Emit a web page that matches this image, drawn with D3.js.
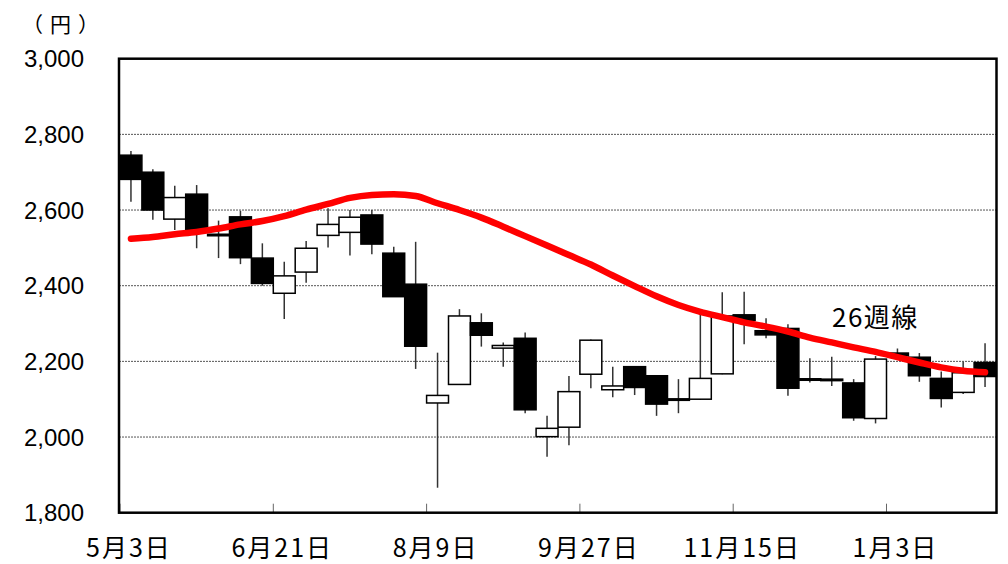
<!DOCTYPE html>
<html>
<head>
<meta charset="utf-8">
<script src="https://cdn.jsdelivr.net/npm/d3@7"></script>
<style>
  body { margin: 0; background: #fff; }
  svg { display: block; }
</style>
</head>
<body>
<svg width="1008" height="564"></svg>
<script>
// weekly candles with 26 week moving average

var weeks = ['5/3', '5/10', '5/17', '5/24', '5/31', '6/7', '6/14', '6/21', '6/28', '7/5',
    '7/12', '7/19', '7/26', '8/2', '8/9', '8/16', '8/23', '8/30', '9/6', '9/13',
    '9/20', '9/27', '10/4', '10/11', '10/18', '10/25', '11/1', '11/8', '11/15', '11/22',
    '11/29', '12/6', '12/13', '12/20', '12/27', '1/3', '1/10', '1/17', '1/24', '1/31'];

var open = [2745, 2700, 2576, 2642, 2532, 2582, 2473, 2380, 2436, 2533,
    2541, 2587, 2486, 2404, 2090, 2139, 2302, 2235, 2261, 2001,
    2026, 2166, 2125, 2186, 2162, 2098, 2100, 2167, 2323, 2281,
    2287, 2154, 2153, 2143, 2049, 2222, 2211, 2155, 2118, 2197];

var close = [2681, 2600, 2633, 2549, 2536, 2474, 2406, 2426, 2499, 2562,
    2581, 2510, 2371, 2240, 2110, 2320, 2269, 2242, 2072, 2023,
    2120, 2256, 2135, 2131, 2087, 2101, 2155, 2320, 2308, 2270,
    2129, 2151, 2150, 2051, 2206, 2215, 2162, 2102, 2170, 2160];

var high = [2756, 2708, 2664, 2666, 2572, 2598, 2512, 2463, 2518, 2605,
    2600, 2600, 2503, 2516, 2223, 2338, 2327, 2250, 2276, 2056,
    2161, 2258, 2186, 2186, 2162, 2153, 2325, 2383, 2384, 2314,
    2298, 2208, 2212, 2153, 2214, 2234, 2222, 2173, 2199, 2248];

var low = [2622, 2574, 2547, 2499, 2473, 2457, 2400, 2312, 2408, 2501,
    2480, 2483, 2371, 2180, 1866, 2139, 2239, 2186, 2063, 1948,
    1978, 2129, 2105, 2111, 2056, 2063, 2098, 2166, 2245, 2261,
    2109, 2144, 2135, 2043, 2036, 2210, 2146, 2078, 2114, 2132];

var ma26 = [2524, 2529, 2536, 2542, 2551, 2562, 2571, 2584, 2601, 2616,
    2632, 2640, 2642, 2637, 2618, 2600, 2580, 2556, 2531, 2506,
    2481, 2456, 2427, 2399, 2372, 2349, 2331, 2317, 2303, 2292,
    2279, 2263, 2250, 2237, 2225, 2211, 2197, 2184, 2175, 2171];

var yTicks = [1800, 2000, 2200, 2400, 2600, 2800, 3000];
var xTickWeeks = ['5/3', '6/21', '8/9', '9/27', '11/15', '1/3'];
var xTickLabels = ['5月3日', '6月21日', '8月9日', '9月27日', '11月15日', '1月3日'];

var svg = d3.select('svg');
var plotLeft = 119, plotRight = 996.5, plotTop = 58.7, plotBottom = 512.7;

var xScale = d3.scaleBand().domain(weeks).range([120, 996]).padding(0);
var yScale = d3.scaleLinear().domain([1800, 3000]).range([plotBottom, plotTop]);
var bw = xScale.bandwidth();

// grid lines
svg.append('g')
    .selectAll('line')
    .data(yTicks.filter(function(d) { return d > 1800 && d < 3000; }))
    .enter().append('line')
    .attr('x1', plotLeft).attr('x2', plotRight)
    .attr('y1', function(d) { return yScale(d); })
    .attr('y2', function(d) { return yScale(d); })
    .attr('stroke', '#555')
    .attr('stroke-width', 1)
    .attr('stroke-dasharray', '2,1');

// y labels
svg.append('g')
    .selectAll('text')
    .data(yTicks)
    .enter().append('text')
    .attr('x', 84)
    .attr('y', function(d) { return yScale(d) + 8.5; })
    .attr('text-anchor', 'end')
    .attr('font-family', '"Liberation Sans", Arial, sans-serif')
    .attr('font-size', 24)
    .attr('fill', '#000')
    .text(function(d) { return d3.format(',')(d); });

svg.append('text')
    .attr('x', 64)
    .attr('y', 32)
    .attr('text-anchor', 'middle')
    .attr('font-family', '"Noto Sans CJK JP", sans-serif')
    .attr('font-size', 21)
    .attr('letter-spacing', 7)
    .text('（円）');

// x ticks and labels
svg.append('g')
    .selectAll('line')
    .data(xTickWeeks)
    .enter().append('line')
    .attr('x1', function(d) { return xScale(d); })
    .attr('x2', function(d) { return xScale(d); })
    .attr('y1', plotBottom)
    .attr('y2', plotBottom - 9)
    .attr('stroke', '#666')
    .attr('stroke-width', 1);

svg.append('g')
    .selectAll('text')
    .data(xTickWeeks)
    .enter().append('text')
    .attr('x', function(d) { return xScale(d) + 9; })
    .attr('y', 557)
    .attr('text-anchor', 'middle')
    .attr('font-family', '"Noto Sans CJK JP", sans-serif')
    .attr('font-size', 25)
    .attr('letter-spacing', 2)
    .text(function(d, i) { return xTickLabels[i]; });

// candles
var candles = weeks.map(function(w, i) {
    return { week: w, open: open[i], close: close[i], high: high[i], low: low[i] };
});

var cg = svg.append('g');

cg.selectAll('line.wick')
    .data(candles)
    .enter().append('line')
    .attr('class', 'wick')
    .attr('x1', function(d) { return xScale(d.week) + bw / 2; })
    .attr('x2', function(d) { return xScale(d.week) + bw / 2; })
    .attr('y1', function(d) { return yScale(d.high); })
    .attr('y2', function(d) { return yScale(d.low); })
    .attr('stroke', '#333')
    .attr('stroke-width', 1.5);

cg.selectAll('rect')
    .data(candles)
    .enter().append('rect')
    .attr('x', function(d) { return xScale(d.week); })
    .attr('width', bw)
    .attr('y', function(d) { return yScale(Math.max(d.open, d.close)); })
    .attr('height', function(d) {
        return Math.max(1.5, Math.abs(yScale(d.open) - yScale(d.close)));
    })
    .attr('fill', function(d) { return d.close < d.open ? '#000' : '#fff'; })
    .attr('stroke', '#000')
    .attr('stroke-width', 1.5);

// moving average
var line = d3.line()
    .x(function(d, i) { return xScale(weeks[i]) + bw / 2; })
    .y(function(d) { return yScale(d); })
    .curve(d3.curveMonotoneX);

svg.append('path')
    .datum(ma26)
    .attr('fill', 'none')
    .attr('stroke', '#ff0000')
    .attr('stroke-width', 6.5)
    .attr('stroke-linecap', 'round')
    .attr('stroke-linejoin', 'round')
    .attr('d', line);

svg.append('text')
    .attr('x', 832)
    .attr('y', 327)
    .attr('font-family', '"Noto Sans CJK JP", sans-serif')
    .attr('font-size', 26)
    .attr('letter-spacing', 1.5)
    .text('26週線');

// plot frame
svg.append('rect')
    .attr('x', plotLeft)
    .attr('y', plotTop)
    .attr('width', plotRight - plotLeft)
    .attr('height', plotBottom - plotTop)
    .attr('fill', 'none')
    .attr('stroke', '#000')
    .attr('stroke-width', 2.5);
</script>
</body>
</html>
